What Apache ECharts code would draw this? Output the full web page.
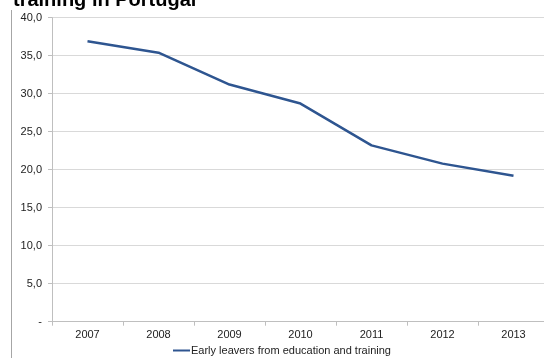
<!DOCTYPE html>
<html lang="en">
<head>
    <meta charset="UTF-8">
    <title>Early leavers</title>
    <script src="https://cdn.jsdelivr.net/npm/echarts@6/dist/echarts.min.js"></script>
    <style>
        html, body {
            margin: 0;
            padding: 0;
            background: #fff;
        }
    </style>
</head>
<body style="overflow: hidden">
<div id="main" style="width: 544px;height: 358px"></div>
<script>
    var years = ['2007', '2008', '2009', '2010', '2011', '2012', '2013'];
    var earlyLeavers = [36.9, 35.4, 31.2, 28.7, 23.2, 20.8, 19.2];
    var seriesName = 'Early leavers from education and training';
    var titleText = 'training in Portugal';

    var myChart = echarts.init(document.getElementById('main'));
    myChart.setOption({
        animation: false,
        title: {
            text: titleText,
            left: 8,
            top: -15,
            textStyle: {
                fontFamily: 'Liberation Sans',
                fontWeight: 'bold',
                fontSize: 20,
                color: '#000'
            }
        },
        graphic: [{
            // thin border line on the left edge of the picture
            type: 'line',
            shape: {x1: 11.5, y1: 10, x2: 11.5, y2: 358},
            style: {stroke: '#a6a6a6', lineWidth: 1}
        }],
        legend: {
            data: [seriesName],
            top: 340,
            left: 168,
            itemWidth: 17,
            itemHeight: 2,
            itemGap: 0,
            icon: 'rect',
            textStyle: {
                fontFamily: 'Liberation Sans',
                fontSize: 11,
                color: '#222',
                padding: [0, 0, 0, -4]
            }
        },
        grid: {
            left: 52,
            top: 17.7,
            bottom: 36.3,
            right: -5,
            containLabel: false,
            outerBoundsMode: 'none'
        },
        xAxis: {
            type: 'category',
            data: years,
            boundaryGap: true,
            axisLine: {lineStyle: {color: '#bfbfbf'}},
            axisTick: {show: true, length: 4, lineStyle: {color: '#bfbfbf'}},
            axisLabel: {
                fontFamily: 'Liberation Sans',
                fontSize: 11,
                color: '#222',
                margin: 8
            },
            splitLine: {show: false}
        },
        yAxis: {
            type: 'value',
            min: 0,
            max: 40,
            interval: 5,
            axisLine: {show: true, lineStyle: {color: '#bfbfbf'}},
            axisTick: {show: true, length: 4, lineStyle: {color: '#bfbfbf'}},
            axisLabel: {
                fontFamily: 'Liberation Sans',
                fontSize: 11,
                color: '#222',
                margin: 10,
                formatter: function (v) {
                    if (v === 0) return '-';
                    return v.toFixed(1).replace('.', ',');
                }
            },
            splitLine: {lineStyle: {color: '#d9d9d9'}}
        },
        series: [{
            name: seriesName,
            type: 'line',
            data: earlyLeavers,
            symbol: 'none',
            smooth: false,
            lineStyle: {color: '#2e5590', width: 2.5},
            itemStyle: {color: '#2e5590'}
        }]
    });
</script>
</body>
</html>
